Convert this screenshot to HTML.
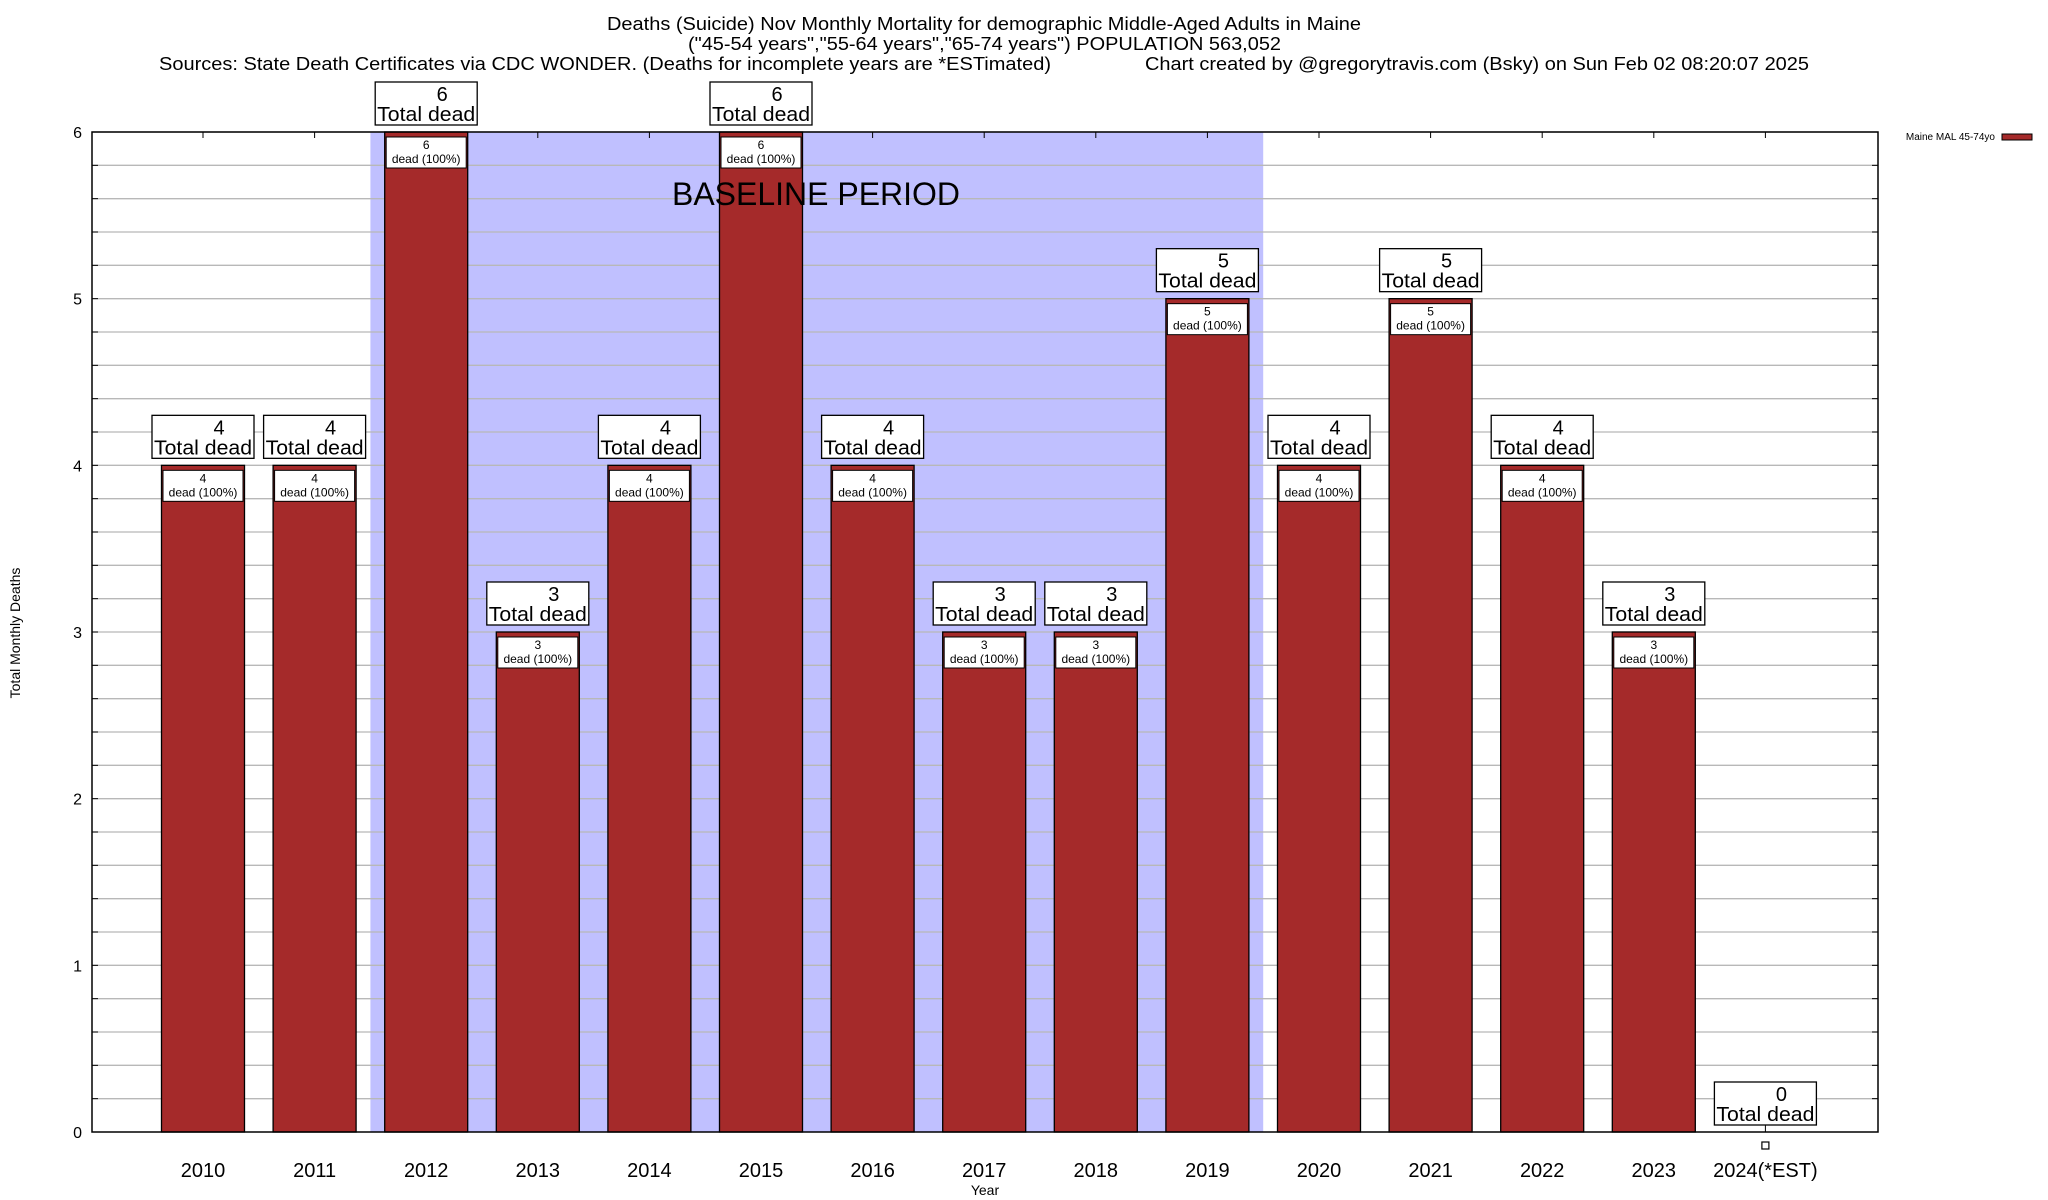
<!DOCTYPE html>
<html><head><meta charset="utf-8"><style>
html,body{margin:0;padding:0;background:#fff;}
svg{display:block;font-family:"Liberation Sans",sans-serif;}
</style></head><body>
<svg id="chart" width="2048" height="1200" xmlns="http://www.w3.org/2000/svg">
<rect width="2048" height="1200" fill="#fff"/>
<text x="607" y="30" font-size="18" textLength="754" lengthAdjust="spacingAndGlyphs">Deaths (Suicide) Nov Monthly Mortality for demographic Middle-Aged Adults in Maine</text>
<text x="688" y="50" font-size="18" textLength="593" lengthAdjust="spacingAndGlyphs">("45-54 years","55-64 years","65-74 years") POPULATION 563,052</text>
<text x="159" y="70" font-size="18" textLength="892" lengthAdjust="spacingAndGlyphs">Sources: State Death Certificates via CDC WONDER. (Deaths for incomplete years are *ESTimated)</text>
<text x="1145" y="70" font-size="18" textLength="664" lengthAdjust="spacingAndGlyphs">Chart created by @gregorytravis.com (Bsky) on Sun Feb 02 08:20:07 2025</text>
<g id="plot"></g>
<text x="0" y="0" font-size="14" text-anchor="middle" transform="translate(20,633) rotate(-90)">Total Monthly Deaths</text>
<text x="985" y="1195" font-size="14" text-anchor="middle">Year</text>
<text x="1995" y="140" font-size="10" text-anchor="end">Maine MAL 45-74yo</text>
<rect x="2002" y="134" width="30" height="6" fill="#a52a2a" stroke="#000" stroke-width="1"/>
</svg>
<script>
const categories=["2010","2011","2012","2013","2014","2015","2016","2017","2018","2019","2020","2021","2022","2023","2024(*EST)"];
const deaths=[4,4,6,3,4,6,4,3,3,5,4,5,4,3,0];
const yTicks=[0,1,2,3,4,5,6];
const baselineStart="2012";
const baselineEnd="2019";

const NS="http://www.w3.org/2000/svg";
const L=92,R=1878,T=132,B=1132,yMax=6;
const x0=203,step=111.6,barW=83;
function xPos(i){return x0+step*i;}
function yPos(v){return B-(v/yMax)*(B-T);}
const g=document.getElementById('plot');
function mk(tag,attrs,parent){const e=document.createElementNS(NS,tag);for(const k in attrs)e.setAttribute(k,attrs[k]);(parent||g).appendChild(e);return e;}

const bs=categories.indexOf(baselineStart),be=categories.indexOf(baselineEnd);
const shade=mk('rect',{x:xPos(bs)-step/2,y:T,width:step*(be-bs+1),height:B-T,fill:'#c0c0ff'});



for(let v=0.2;v<yMax+0.001;v+=0.2){
  const y=yPos(v);
  const ln=mk('line',{x1:L,x2:R,y1:y,y2:y,stroke:'#b8b8b8','stroke-width':1.3});
  
  
  const tk1=mk('line',{x1:L,x2:L+6,y1:y,y2:y,stroke:'#000'});
  
  
  const tk2=mk('line',{x1:R-6,x2:R,y1:y,y2:y,stroke:'#000'});
  
  
}

yTicks.forEach(v=>{
  const t=mk('text',{x:82,y:yPos(v)+6,'font-size':16,'text-anchor':'end'});
  t.textContent=v;
  
  
});

categories.forEach((c,i)=>{
  const cx=xPos(i),v=deaths[i];
  const tt=mk('line',{x1:cx,x2:cx,y1:T,y2:T+6,stroke:'#000'});
  
  
  const xl=mk('text',{x:cx,y:1177,'font-size':20,'text-anchor':'middle'});
  xl.textContent=c;
  
  
  if(v>0){
    const top=yPos(v);
    const bar=mk('rect',{x:cx-barW/2,y:top,width:barW,height:B-top,fill:'#a52a2a',stroke:'#000','stroke-width':1.3});
    
    
    const ib=mk('rect',{x:cx-barW/2+1.5,y:top+5,width:barW-3,height:31,fill:'#fff',stroke:'#000','stroke-width':1});
    
    
    const n=mk('text',{x:cx,y:top+17,'font-size':12,'text-anchor':'middle'});
    n.textContent=v;
    
    
    const d=mk('text',{x:cx,y:top+31,'font-size':12,'text-anchor':'middle'});
    d.textContent='dead (100%)';
    
    
  } else {
    const pt=mk('rect',{x:cx-3.5,y:B+10,width:7,height:7,fill:'#fff',stroke:'#000','stroke-width':1.2});
    
    
  }
  const top=yPos(v);
  const bx=cx-51,by=top-50;
  const box=mk('rect',{x:bx,y:by,width:102,height:43,fill:'#fff',stroke:'#000','stroke-width':1.3});
  
  
  const n2=mk('text',{x:cx+16,y:by+19,'font-size':20,'text-anchor':'middle'});
  n2.textContent=v;
  
  
  const td=mk('text',{x:cx,y:by+39,'font-size':20,'text-anchor':'middle',textLength:98,lengthAdjust:'spacingAndGlyphs'});
  td.textContent='Total dead';
  
  
  if(v===0){
    const cn=mk('line',{x1:cx,x2:cx,y1:by+43,y2:B,stroke:'#000'});
    
    
  }
});

const bl=mk('text',{x:672,y:205,'font-size':32,textLength:288,lengthAdjust:'spacingAndGlyphs'});
bl.textContent='BASELINE PERIOD';



const frame=mk('rect',{x:L,y:T,width:R-L,height:B-T,fill:'none',stroke:'#000','stroke-width':1.5});


</script>
</body></html>
